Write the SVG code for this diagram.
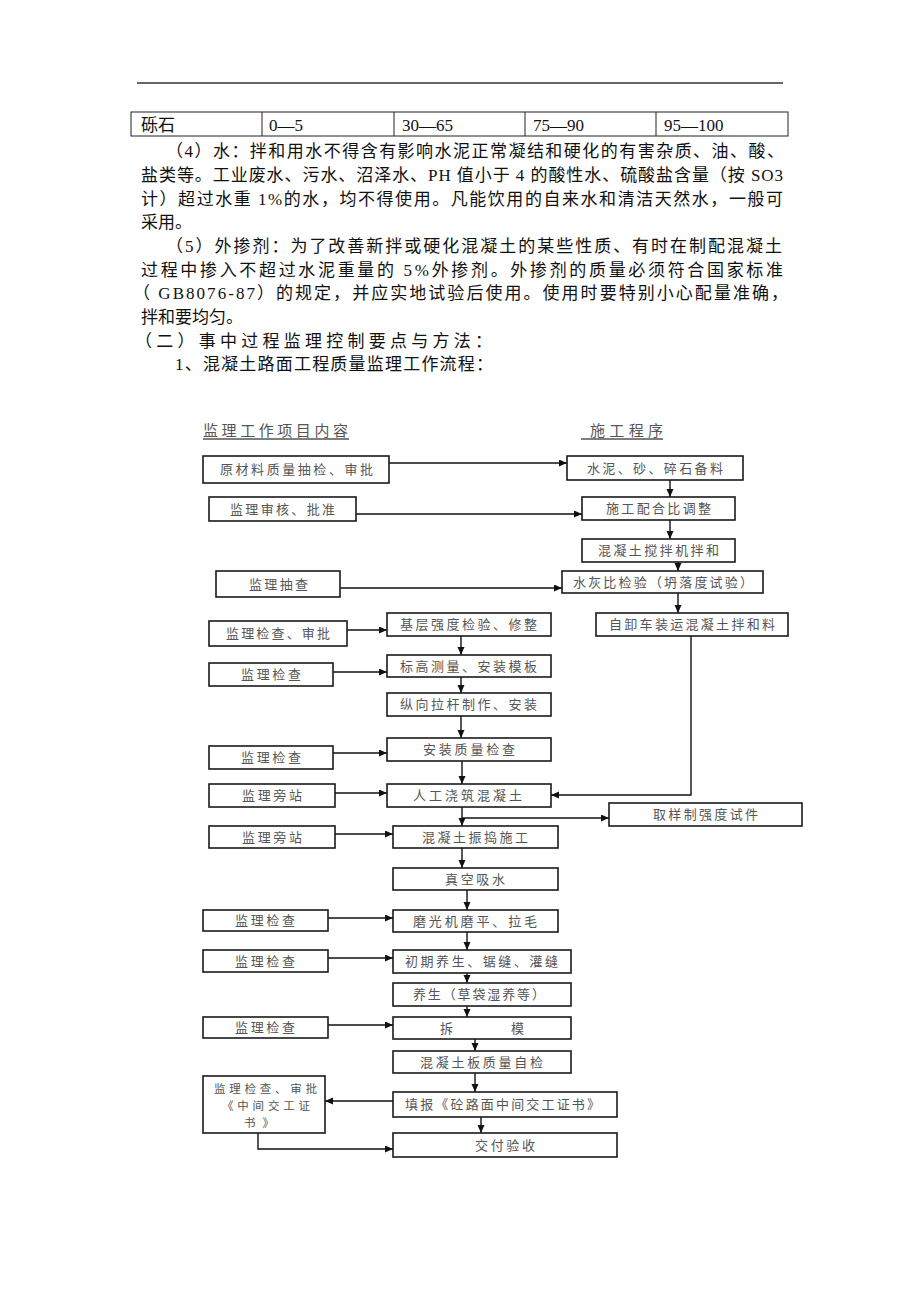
<svg xmlns="http://www.w3.org/2000/svg" width="920" height="1302" viewBox="0 0 920 1302">
<style>
.body{font-family:"Liberation Serif","Noto Sans CJK SC",serif;font-size:17px;fill:#111}
.hdr{font-family:"Noto Sans CJK SC",sans-serif;font-size:15px;fill:#555}
.lbl{font-family:"Noto Sans CJK SC",sans-serif;font-size:13px;fill:#555}
.lbs{font-family:"Noto Sans CJK SC",sans-serif;font-size:11.5px;fill:#555}
.box{fill:#fff;stroke:#1a1a1a;stroke-width:1.6}
.cn{fill:none;stroke:#111;stroke-width:1.4}
.tb{fill:none;stroke:#222;stroke-width:1}
</style>
<defs>
<marker id="ah" markerUnits="userSpaceOnUse" markerWidth="9" markerHeight="8" refX="8" refY="3.5" orient="auto">
<path d="M0,0 L8,3.5 L0,7 z" fill="#111"/>
</marker>
</defs>
<rect width="920" height="1302" fill="#fff"/>
<line x1="137" y1="83" x2="783" y2="83" stroke="#333" stroke-width="1.5"/>
<g id="table">
<rect class="tb" x="131" y="112" width="657" height="24"/>
<line class="tb" x1="262" y1="112" x2="262" y2="136"/>
<line class="tb" x1="394" y1="112" x2="394" y2="136"/>
<line class="tb" x1="525" y1="112" x2="525" y2="136"/>
<line class="tb" x1="656" y1="112" x2="656" y2="136"/>
<text class="body" x="141" y="131">砾石</text>
<text class="body" x="269" y="131">0—5</text>
<text class="body" x="402" y="131">30—65</text>
<text class="body" x="533" y="131">75—90</text>
<text class="body" x="664" y="131">95—100</text>
</g>
<g id="paragraphs">
<text class="body" x="166" y="157" textLength="618" lengthAdjust="spacing">（4）水：拌和用水不得含有影响水泥正常凝结和硬化的有害杂质、油、酸、</text>
<text class="body" x="141" y="181" textLength="642" lengthAdjust="spacing">盐类等。工业废水、污水、沼泽水、PH 值小于 4 的酸性水、硫酸盐含量（按 SO3</text>
<text class="body" x="141" y="205" textLength="642" lengthAdjust="spacing">计）超过水重 1%的水，均不得使用。凡能饮用的自来水和清洁天然水，一般可</text>
<text class="body" x="141" y="228">采用。</text>
<text class="body" x="166" y="252" textLength="616" lengthAdjust="spacing">（5）外掺剂：为了改善新拌或硬化混凝土的某些性质、有时在制配混凝土</text>
<text class="body" x="141" y="276" textLength="642" lengthAdjust="spacing">过程中掺入不超过水泥重量的 5%外掺剂。外掺剂的质量必须符合国家标准</text>
<text class="body" x="133" y="299" textLength="655" lengthAdjust="spacing">（ GB8076-87）的规定，并应实地试验后使用。使用时要特别小心配量准确，</text>
<text class="body" x="141" y="323">拌和要均匀。</text>
<text class="body" x="135" y="347" textLength="357" lengthAdjust="spacing">（二）事中过程监理控制要点与方法：</text>
<text class="body" x="175" y="370" textLength="318" lengthAdjust="spacing">1、混凝土路面工程质量监理工作流程：</text>
</g>
<g id="headers">
<text class="hdr" x="203" y="436" textLength="145" lengthAdjust="spacing">监理工作项目内容</text>
<line x1="203" y1="439" x2="349" y2="439" stroke="#555" stroke-width="1.3"/>
<text class="hdr" x="590" y="436" textLength="73" lengthAdjust="spacing">施工程序</text>
<line x1="581" y1="439" x2="663" y2="439" stroke="#555" stroke-width="1.3"/>
</g>
<g id="connectors">
<line class="cn" x1="389" y1="463" x2="567" y2="463" marker-end="url(#ah)"/>
<line class="cn" x1="356" y1="514" x2="582" y2="514" marker-end="url(#ah)"/>
<line class="cn" x1="670" y1="480" x2="670" y2="497" marker-end="url(#ah)"/>
<line class="cn" x1="670" y1="520" x2="670" y2="539" marker-end="url(#ah)"/>
<line class="cn" x1="678" y1="562" x2="678" y2="571" marker-end="url(#ah)"/>
<line class="cn" x1="340" y1="588" x2="562" y2="588" marker-end="url(#ah)"/>
<line class="cn" x1="678" y1="593" x2="678" y2="613" marker-end="url(#ah)"/>
<line class="cn" x1="347" y1="630" x2="387" y2="630" marker-end="url(#ah)"/>
<line class="cn" x1="461" y1="636" x2="461" y2="655" marker-end="url(#ah)"/>
<line class="cn" x1="333" y1="672" x2="387" y2="672" marker-end="url(#ah)"/>
<line class="cn" x1="461" y1="677" x2="461" y2="693" marker-end="url(#ah)"/>
<line class="cn" x1="461" y1="716" x2="461" y2="738" marker-end="url(#ah)"/>
<line class="cn" x1="333" y1="753" x2="387" y2="753" marker-end="url(#ah)"/>
<line class="cn" x1="462" y1="761" x2="462" y2="784" marker-end="url(#ah)"/>
<line class="cn" x1="335" y1="793" x2="387" y2="793" marker-end="url(#ah)"/>
<polyline class="cn" points="691,636 691,795 551,795" marker-end="url(#ah)"/>
<line class="cn" x1="462" y1="807" x2="462" y2="826" marker-end="url(#ah)"/>
<line class="cn" x1="462" y1="818" x2="609" y2="818" marker-end="url(#ah)"/>
<line class="cn" x1="335" y1="834" x2="393" y2="834" marker-end="url(#ah)"/>
<line class="cn" x1="462" y1="848" x2="462" y2="868" marker-end="url(#ah)"/>
<line class="cn" x1="467" y1="890" x2="467" y2="910" marker-end="url(#ah)"/>
<line class="cn" x1="328" y1="918" x2="393" y2="918" marker-end="url(#ah)"/>
<line class="cn" x1="467" y1="932" x2="467" y2="950" marker-end="url(#ah)"/>
<line class="cn" x1="328" y1="958" x2="393" y2="958" marker-end="url(#ah)"/>
<line class="cn" x1="467" y1="973" x2="467" y2="983" marker-end="url(#ah)"/>
<line class="cn" x1="467" y1="1006" x2="467" y2="1017" marker-end="url(#ah)"/>
<line class="cn" x1="328" y1="1025" x2="393" y2="1025" marker-end="url(#ah)"/>
<line class="cn" x1="475" y1="1039" x2="475" y2="1051" marker-end="url(#ah)"/>
<line class="cn" x1="475" y1="1073" x2="475" y2="1092" marker-end="url(#ah)"/>
<line class="cn" x1="393" y1="1101" x2="325" y2="1101" marker-end="url(#ah)"/>
<line class="cn" x1="481" y1="1117" x2="481" y2="1133" marker-end="url(#ah)"/>
<polyline class="cn" points="258,1133 258,1149 393,1149" marker-end="url(#ah)"/>
</g>
<g id="L1"><rect class="box" x="203" y="456" width="186" height="27"/><text class="lbl" x="220" y="474" textLength="153" lengthAdjust="spacing">原材料质量抽检、审批</text></g>
<g id="L2"><rect class="box" x="209" y="497" width="147" height="24"/><text class="lbl" x="230" y="513.5" textLength="105" lengthAdjust="spacing">监理审核、批准</text></g>
<g id="L3"><rect class="box" x="216" y="571" width="124" height="26"/><text class="lbl" x="249" y="588.5" textLength="59" lengthAdjust="spacing">监理抽查</text></g>
<g id="L4"><rect class="box" x="209" y="621" width="138" height="25"/><text class="lbl" x="226" y="638" textLength="104" lengthAdjust="spacing">监理检查、审批</text></g>
<g id="L5"><rect class="box" x="209" y="663" width="124" height="23"/><text class="lbl" x="241" y="679" textLength="60" lengthAdjust="spacing">监理检查</text></g>
<g id="L6"><rect class="box" x="209" y="746" width="124" height="23"/><text class="lbl" x="241" y="762" textLength="60" lengthAdjust="spacing">监理检查</text></g>
<g id="L7"><rect class="box" x="209" y="784" width="126" height="23"/><text class="lbl" x="242" y="800" textLength="60" lengthAdjust="spacing">监理旁站</text></g>
<g id="L8"><rect class="box" x="209" y="826" width="126" height="22"/><text class="lbl" x="242" y="841.5" textLength="60" lengthAdjust="spacing">监理旁站</text></g>
<g id="L9"><rect class="box" x="203" y="910" width="125" height="21"/><text class="lbl" x="235" y="925" textLength="60" lengthAdjust="spacing">监理检查</text></g>
<g id="L10"><rect class="box" x="203" y="950" width="125" height="22"/><text class="lbl" x="235" y="965.5" textLength="60" lengthAdjust="spacing">监理检查</text></g>
<g id="L11"><rect class="box" x="203" y="1017" width="125" height="21"/><text class="lbl" x="235" y="1032" textLength="60" lengthAdjust="spacing">监理检查</text></g>
<g id="L12"><rect class="box" x="203" y="1076" width="122" height="57"/>
<text class="lbs" x="214" y="1093" textLength="103" lengthAdjust="spacing">监理检查、审批</text>
<text class="lbs" x="222" y="1110" textLength="88" lengthAdjust="spacing">《中间交工证</text>
<text class="lbs" x="244" y="1127" textLength="30" lengthAdjust="spacing">书》</text></g>
<g id="R1"><rect class="box" x="567" y="456" width="176" height="24"/><text class="lbl" x="587" y="472.5" textLength="136" lengthAdjust="spacing">水泥、砂、碎石备料</text></g>
<g id="R2"><rect class="box" x="582" y="497" width="153" height="23"/><text class="lbl" x="606" y="513" textLength="105" lengthAdjust="spacing">施工配合比调整</text></g>
<g id="R3"><rect class="box" x="582" y="539" width="153" height="23"/><text class="lbl" x="598" y="555" textLength="121" lengthAdjust="spacing">混凝土搅拌机拌和</text></g>
<g id="R4"><rect class="box" x="562" y="571" width="201" height="22"/><text class="lbl" x="573" y="586.5" textLength="180" lengthAdjust="spacing">水灰比检验（坍落度试验）</text></g>
<g id="R5"><rect class="box" x="596" y="613" width="192" height="23"/><text class="lbl" x="609" y="629" textLength="166" lengthAdjust="spacing">自卸车装运混凝土拌和料</text></g>
<g id="C1"><rect class="box" x="387" y="613" width="164" height="23"/><text class="lbl" x="400" y="629" textLength="137" lengthAdjust="spacing">基层强度检验、修整</text></g>
<g id="C2"><rect class="box" x="387" y="655" width="164" height="22"/><text class="lbl" x="400" y="670.5" textLength="137" lengthAdjust="spacing">标高测量、安装模板</text></g>
<g id="C3"><rect class="box" x="387" y="693" width="164" height="23"/><text class="lbl" x="400" y="709" textLength="137" lengthAdjust="spacing">纵向拉杆制作、安装</text></g>
<g id="C4"><rect class="box" x="387" y="738" width="164" height="23"/><text class="lbl" x="423" y="754" textLength="92" lengthAdjust="spacing">安装质量检查</text></g>
<g id="C5"><rect class="box" x="387" y="784" width="164" height="23"/><text class="lbl" x="413" y="800" textLength="109" lengthAdjust="spacing">人工浇筑混凝土</text></g>
<g id="S1"><rect class="box" x="609" y="803" width="193" height="23"/><text class="lbl" x="653" y="819" textLength="105" lengthAdjust="spacing">取样制强度试件</text></g>
<g id="C6"><rect class="box" x="393" y="826" width="165" height="22"/><text class="lbl" x="422" y="841.5" textLength="106" lengthAdjust="spacing">混凝土振捣施工</text></g>
<g id="C7"><rect class="box" x="393" y="868" width="165" height="22"/><text class="lbl" x="445" y="883.5" textLength="60" lengthAdjust="spacing">真空吸水</text></g>
<g id="C8"><rect class="box" x="393" y="910" width="165" height="22"/><text class="lbl" x="413" y="925.5" textLength="124" lengthAdjust="spacing">磨光机磨平、拉毛</text></g>
<g id="C9"><rect class="box" x="393" y="950" width="178" height="23"/><text class="lbl" x="405" y="966" textLength="153" lengthAdjust="spacing">初期养生、锯缝、灌缝</text></g>
<g id="C10"><rect class="box" x="393" y="983" width="178" height="23"/><text class="lbl" x="413" y="999" textLength="132" lengthAdjust="spacing">养生（草袋湿养等）</text></g>
<g id="C11"><rect class="box" x="393" y="1017" width="178" height="22"/><text class="lbl" y="1032.5"><tspan x="440">拆</tspan><tspan x="511">模</tspan></text></g>
<g id="C12"><rect class="box" x="393" y="1051" width="178" height="22"/><text class="lbl" x="420" y="1066.5" textLength="123" lengthAdjust="spacing">混凝土板质量自检</text></g>
<g id="C13"><rect class="box" x="393" y="1092" width="224" height="25"/><text class="lbl" x="405" y="1109" textLength="195" lengthAdjust="spacing">填报《砼路面中间交工证书》</text></g>
<g id="C14"><rect class="box" x="393" y="1133" width="224" height="24"/><text class="lbl" x="475" y="1149.5" textLength="60" lengthAdjust="spacing">交付验收</text></g>
</svg>
